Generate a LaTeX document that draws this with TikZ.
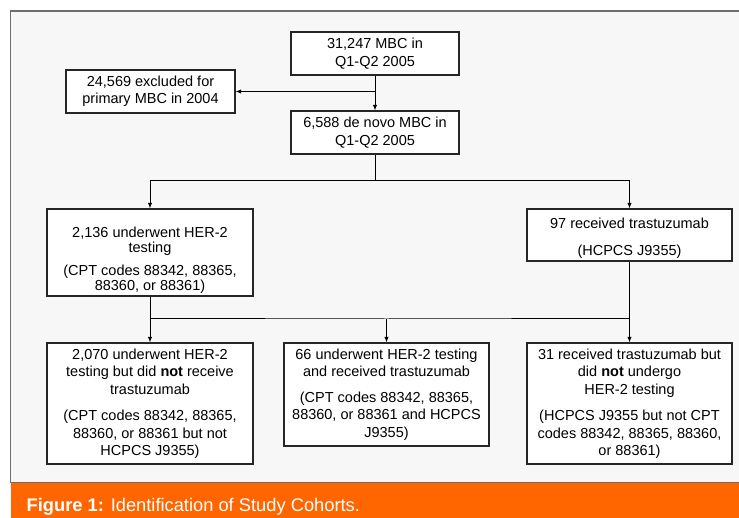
\documentclass[tikz,border=0pt]{standalone}
\usepackage{fontspec}
\setmainfont{Liberation Sans}
\usetikzlibrary{arrows.meta}
\definecolor{Panel}{HTML}{F7F7F7}
\definecolor{Frame}{HTML}{6E6E6E}
\definecolor{Band}{HTML}{FF6600}
\tikzset{Cohort/.style={draw=black!85, line width=1.2pt, fill=white, align=center, inner sep=0pt, font=\fontsize{14.5}{17.5}\selectfont},
         Flow/.style={draw=black, line width=1pt, -{Latex[length=5.5pt,width=4.5pt]}},
         Link/.style={draw=black, line width=1pt}}

\begin{document}
\begin{tikzpicture}[x=1pt, y=-1pt]
    \useasboundingbox (0,0) rectangle (739,518);
    \fill[Panel] (10.5,11) rectangle (739,482.5);
    \draw[Frame, line width=1.5pt] (739,11) -- (10.5,11) -- (10.5,482.5) -- (739,482.5);
    \fill[Band] (10.5,483.2) rectangle (739,518);
    \node[anchor=base west, text=white, inner sep=0pt, font=\fontsize{18.3}{22}\selectfont] (Caption) at (26.5,511) {\textbf{Figure 1:} Identification of Study Cohorts.};

    \node[Cohort, minimum width=168pt, minimum height=43pt] (All) at (375,53.5) {31,247 MBC in\\Q1-Q2 2005};
    \node[Cohort, minimum width=169pt, minimum height=43pt] (Excl) at (150.5,91.5) {24,569 excluded for\\primary MBC in 2004};
    \node[Cohort, minimum width=168pt, minimum height=43pt] (DeNovo) at (375,132.5) {6,588 de novo MBC in\\Q1-Q2 2005};
    \node[Cohort, minimum width=206pt, minimum height=87pt, font=\fontsize{14.5}{15}\selectfont] (Test) at (150,252.5) {\rule{0pt}{26pt}2,136 underwent HER-2\\testing\\[8pt](CPT codes 88342, 88365,\\88360, or 88361)};
    \node[Cohort, minimum width=205pt, minimum height=52pt] (Tras) at (629.5,235) {\rule{0pt}{17.5pt}97 received trastuzumab\\[9pt](HCPCS J9355)};
    \node[Cohort, minimum width=206pt, minimum height=121pt] (TestOnly) at (150,403.5) {2,070 underwent HER-2\\testing but did \textbf{not} receive\\trastuzumab\\[9pt](CPT codes 88342, 88365,\\88360, or 88361 but not\\HCPCS J9355)};
    \node[Cohort, minimum width=205pt, minimum height=103pt] (Both) at (386.5,394.5) {66 underwent HER-2 testing\\and received trastuzumab\\[8pt](CPT codes 88342, 88365,\\88360, or 88361 and HCPCS\\J9355)};
    \node[Cohort, minimum width=205pt, minimum height=121pt] (TrasOnly) at (629.5,403.5) {31 received trastuzumab but\\did \textbf{not} undergo\\HER-2 testing\\[9pt](HCPCS J9355 but not CPT\\codes 88342, 88365, 88360,\\or 88361)};

    \coordinate (Split) at (All.south |- Excl.east);
    \coordinate (Fork) at (375,181);
    \coordinate (Merge) at (386.5,319);

    \path (All) edge[Flow] (DeNovo)
        (Split) edge[Flow] (Excl);
    \draw[Link] (DeNovo.south) -- (Fork);
    \draw[Flow] (Fork) -| (Test.north);
    \draw[Flow] (Fork) -| (Tras.north);
    \draw[Link] (Test.south) |- (Merge) -| (Tras.south);
    \path (Test.south |- Merge) edge[Flow] (TestOnly.north)
        (Merge) edge[Flow] (Both.north)
        (Tras.south |- Merge) edge[Flow] (TrasOnly.north);
\end{tikzpicture}
\end{document}
